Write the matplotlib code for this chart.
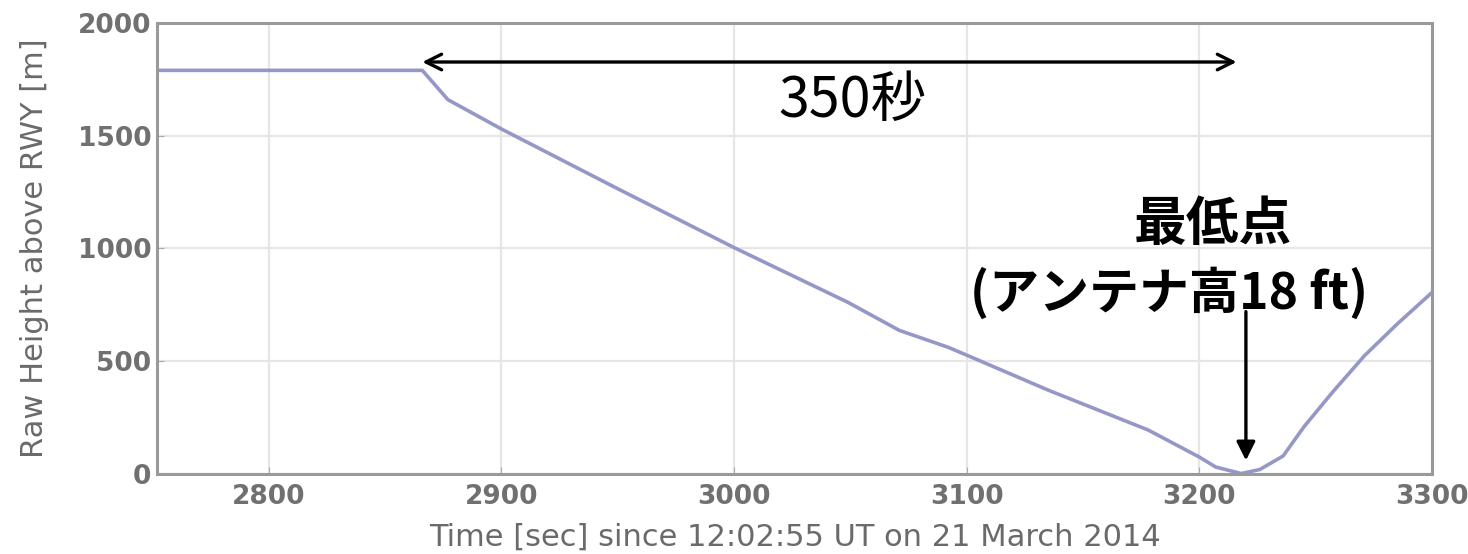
import matplotlib
matplotlib.use("Agg")
import matplotlib.pyplot as plt

# descent profile: time since 12:02:55 UT [sec] vs raw height above runway
time_sec = [2752, 2866, 2877, 2900, 2950, 3000, 3049, 3071, 3092, 3100, 3135,
            3178, 3200, 3207, 3218, 3226, 3236, 3245, 3257, 3271, 3285, 3300]
height = [1790, 1790, 1660, 1530, 1265, 1004, 761, 637, 562, 527, 372,
          195, 75, 31, 2, 20, 80, 210, 360, 525, 665, 805]

x_ticks = [2800, 2900, 3000, 3100, 3200, 3300]
y_ticks = [0, 500, 1000, 1500, 2000]

descent_start = 2866
descent_duration = 350
lowest_time = 3220
span_label = "350秒"
lowest_label = "最低点"
antenna_label = "(アンテナ高18 ft)"

plt.rcParams["font.family"] = ["Noto Sans CJK JP", "DejaVu Sans"]

fig = plt.figure(figsize=(14.68, 5.54), dpi=100)
ax = fig.add_axes([0.107, 0.1444, 0.8685, 0.8141])

ax.plot(time_sec, height, color="#9598c6", lw=2.6, solid_capstyle="round")

ax.set_xlim(2752, 3300)
ax.set_ylim(0, 2000)
ax.set_xticks(x_ticks)
ax.set_yticks(y_ticks)
ax.grid(True, color="#e6e6e6", lw=1.6)
ax.set_axisbelow(True)
for s in ax.spines.values():
    s.set_color("#9a9a9a")
    s.set_linewidth(2.2)
ax.tick_params(direction="in", length=5, color="#aaaaaa", labelcolor="#707070",
               labelsize=19)
ax.tick_params(axis="x", pad=7)
ax.tick_params(axis="y", pad=4)
for lbl in ax.get_xticklabels() + ax.get_yticklabels():
    lbl.set_family("DejaVu Sans")
    lbl.set_fontweight("bold")

ax.set_xlabel("Time [sec] since 12:02:55 UT on 21 March 2014",
              family="DejaVu Sans", fontsize=22, color="#6a6a6a")
ax.xaxis.set_label_coords(0.5, -0.108)
ax.set_ylabel("Raw Height above RWY [m]", family="DejaVu Sans", fontsize=22,
              color="#6a6a6a")
ax.yaxis.set_label_coords(-0.085, 0.5)

# 350 s span of the descent
ax.annotate("", xy=(descent_start, 1827), xytext=(descent_start + descent_duration, 1827),
            arrowprops=dict(arrowstyle="<->", color="black", lw=2.4,
                            mutation_scale=28, shrinkA=0, shrinkB=0),
            annotation_clip=False)
ax.text(descent_start + descent_duration / 2 + 10, 1655, span_label,
        fontsize=40, ha="center", va="center", color="black")

# lowest point marker
ax.text(3206, 1105, lowest_label, fontsize=38, fontweight="bold",
        ha="center", va="center", color="black")
ax.text(3187, 800, antenna_label, fontsize=36, fontweight="bold",
        ha="center", va="center", color="black")
ax.annotate("", xy=(lowest_time, 60), xytext=(lowest_time, 720),
            arrowprops=dict(arrowstyle="-|>", color="black", lw=2.4,
                            mutation_scale=28, shrinkA=0, shrinkB=0))

fig.savefig("out.png", dpi=100)
